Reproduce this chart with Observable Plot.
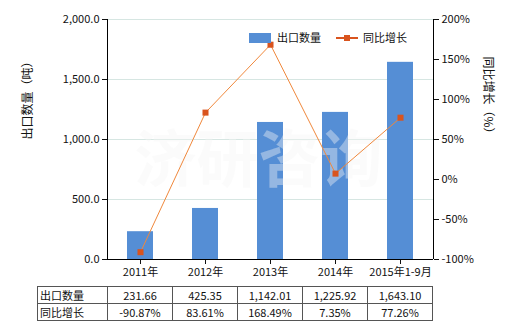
<!DOCTYPE html>
<html><head><meta charset="utf-8">
<script src="https://cdn.jsdelivr.net/npm/d3@7"></script>
<script src="https://cdn.jsdelivr.net/npm/@observablehq/plot@0.6"></script>
<style>
body{margin:0;background:#fff;font-family:"Noto Sans CJK SC",sans-serif;}
#wrap{position:relative;width:520px;height:330px;}
.leg{position:absolute;top:29px;font-size:11px;color:#111;line-height:16px;}
table{position:absolute;left:37px;top:286px;border-collapse:collapse;font-size:11px;color:#111;}
td{border:1px solid #555;height:16px;padding:0;line-height:16px;text-align:center;width:64px;}
td.h{text-align:left;padding-left:2px;width:67px;}
</style></head>
<body><div id="wrap"></div>
<script>
const categories = ["2011年","2012年","2013年","2014年","2015年1-9月"];
const quantity = [231.66, 425.35, 1142.01, 1225.92, 1643.10];
const growth = [-90.87, 83.61, 168.49, 7.35, 77.26];
const leftTicks = [0, 500, 1000, 1500, 2000];
const rightTicks = [-100, -50, 0, 50, 100, 150, 200];
const seriesNames = ["出口数量", "同比增长"];
const axisTitles = ["出口数量（吨）", "同比增长（%）"];
const watermark = "济研咨询";

const barColor = "#558ed5", lineColor = "#f0883c", markColor = "#d9541e";
const toLeft = p => (p + 100) * 2000 / 300;
const data = categories.map((c,i)=>({c, q: quantity[i], g: growth[i]}));

const axisLines = (index, scales, values, dim) => {
  const g = d3.create("svg:g").attr("stroke","#000").attr("shape-rendering","crispEdges");
  const l = dim.marginLeft, r = dim.width - dim.marginRight, t = dim.marginTop, b = dim.height - dim.marginBottom;
  g.append("line").attr("x1",l).attr("x2",l).attr("y1",t).attr("y2",b);
  g.append("line").attr("x1",r).attr("x2",r).attr("y1",t).attr("y2",b);
  g.append("line").attr("x1",l).attr("x2",r).attr("y1",b).attr("y2",b);
  return g.node();
};

const chart = Plot.plot({
  width: 520, height: 282,
  marginLeft: 107, marginRight: 87, marginTop: 19, marginBottom: 23,
  style: {fontFamily: '"Noto Sans CJK SC", sans-serif', fontSize: "11px", color: "#111", background: "#fff"},
  x: {domain: categories, paddingInner: 0.6, paddingOuter: 0.3, label: null},
  y: {domain: [0, 2000], label: null},
  marks: [
    Plot.gridY(leftTicks.slice(1), {stroke: "#d6e6e2", strokeOpacity: 1}),
    Plot.barY(data, {x: "c", y: "q", fill: barColor}),
    Plot.text([watermark], {frameAnchor: "middle", dx: -12, dy: 23, fontSize: 62, fontWeight: "bold", fill: "#f4f4f4", fillOpacity: 0.4, letterSpacing: "22px"}),
    Plot.line(data, {x: "c", y: d => toLeft(d.g), stroke: lineColor, strokeWidth: 1}),
    Plot.dot(data, {x: "c", y: d => toLeft(d.g), symbol: "square", r: 3.4, fill: markColor, stroke: null}),
    Plot.axisY({anchor: "left", ticks: leftTicks, tickFormat: d3.format(",.1f"), tickSize: 5, tickPadding: 3, label: null}),
    Plot.axisY({anchor: "right", ticks: rightTicks.map(toLeft), tickFormat: v => Math.round(v * 300 / 2000 - 100) + "%", tickSize: 5, tickPadding: 3, label: null}),
    Plot.axisX({tickSize: 5, tickPadding: 4, label: null}),
    axisLines,
    Plot.text([axisTitles[0]], {frameAnchor: "left", dx: -79, rotate: -90, fontSize: 12, fill: "#111"}),
    Plot.text([axisTitles[1]], {frameAnchor: "right", dx: 54, rotate: 90, fontSize: 12, fill: "#111"})
  ]
});
const wrap = document.getElementById("wrap");
wrap.appendChild(chart);

// legend
const leg1 = document.createElement("div");
leg1.className = "leg"; leg1.style.left = "249px";
leg1.innerHTML = `<span style="display:inline-block;width:22px;height:10px;background:${barColor};vertical-align:-1px;margin-right:6px"></span>${seriesNames[0]}`;
wrap.appendChild(leg1);
const leg2 = document.createElement("div");
leg2.className = "leg"; leg2.style.left = "336px";
leg2.innerHTML = `<svg width="22" height="10" style="vertical-align:-1px;margin-right:5px"><line x1="0" x2="22" y1="5" y2="5" stroke="${markColor}" stroke-width="2"/><rect x="8" y="2" width="6" height="6" fill="${markColor}"/></svg>${seriesNames[1]}`;
wrap.appendChild(leg2);

// table
const table = document.createElement("table");
const fq = d3.format(",.2f");
const rows = [[seriesNames[0], ...quantity.map(fq)], [seriesNames[1], ...growth.map(g => g.toFixed(2) + "%")]];
rows.forEach(r => {
  const tr = document.createElement("tr");
  r.forEach((v, i) => { const td = document.createElement("td"); if (i === 0) td.className = "h"; td.textContent = v; tr.appendChild(td); });
  table.appendChild(tr);
});
wrap.appendChild(table);
</script></body></html>
